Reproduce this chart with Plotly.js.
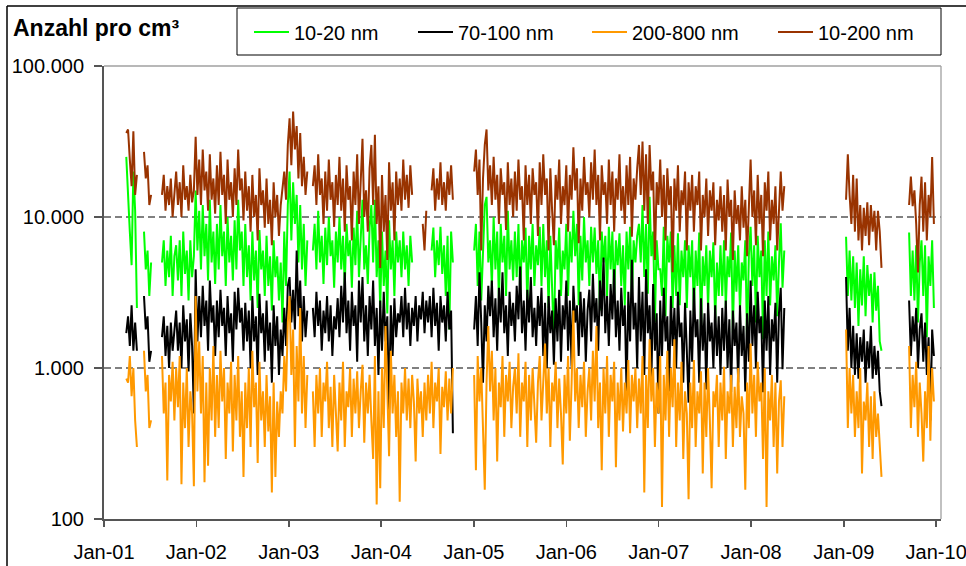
<!DOCTYPE html>
<html>
<head>
<meta charset="utf-8">
<script src="https://cdn.plot.ly/plotly-3.0.1.min.js"></script>
<style>html,body{margin:0;padding:0;background:#fff}</style>
</head>
<body>
<div id="chart" style="width:966px;height:566px"></div>
<script>
// Weekly particle number concentrations (per cm³), one sub-array per measuring period.
const segmentStart = ['2001-03-30', '2001-06-08', '2001-08-18', '2003-04-06', '2005-01-02', '2009-01-10', '2009-09-16'];

const nm10_20 = [
  [25000, 13000, 8000, 4800, 20000, 11000, 2500],
  [8000, 4500, 6000, 3000, 5000],
  [5000, 7000, 3500, 6000, 4000, 7500, 3000, 5500,
   6500, 3800, 7000, 3000, 8000, 4200, 6000, 2800, 7000, 4000, 5500,
   15000, 6000, 11000,
   4500, 12000, 5500, 9000, 3800, 13000, 5000, 8000, 3600,
   9000, 4500, 12000, 5500, 8000, 3500, 10000, 5000, 7500, 3800, 9500, 4500, 13000, 6000, 8000, 3500, 9000,
   4000, 6500, 2800, 8000, 3800, 6000, 2500, 8200, 4500, 6000, 3000, 7500, 3500, 5500, 2400, 7000, 4000, 5500, 2800, 5000,
   2000, 8000, 3500, 12000, 20000, 7000, 17000, 9000, 14000, 5000, 12000, 4500, 9000, 3500, 7000],
  [6000, 9000, 4500, 11000, 5000, 7500, 3600, 8500, 4800, 10000, 5500, 7000, 3400, 8000, 5000,
   10000, 4500, 7500, 3500, 9000, 5500, 7000, 3400, 8500, 4800, 11000, 4000, 7500, 13000, 4500, 6500, 3600,
   8500, 12000, 5000, 13000, 4000, 7000, 2500, 8000, 3500, 6000, 2300, 9500, 4500, 7000, 3000, 8000, 5000,
   7000, 4000, 8000, 4500, 6500, 3500, 7500, 5000,
   null, null, null, null, null, null, null, null, null, null,
   6000, 8500, 4000, 7000, 4800, 8600, 4200, 6500, 3000, 7500, 1800, 8000, 5000],
  [6000, 9000, 3500, 8000, 2800, 7000, 12000, 13600, 5000,
   7000, 3500, 10000, 4500, 8000, 2800, 9000, 5000, 7500, 3000, 11000, 4500, 7000, 3800,
   8000, 4000, 9000, 3000, 7000, 5000, 8500, 2600, 7500, 4500, 9000, 3500, 6500, 4800,
   8600, 3500, 9000, 4000, 7000, 2500, 7500, 3500, 1500, 7000, 4500, 8500, 3000, 6000,
   4500, 9000, 3000, 8000, 5000, 11000, 5500, 9000, 2600, 7500, 3800, 10000, 5000, 7000,
   3500, 8600, 5000, 8500, 4200, 7000, 2400, 8000, 5000, 7500, 3000, 8600, 4500, 8000, 2800, 7000, 4800, 7800, 3500, 6500,
   2600, 8000, 4500, 8600, 2800, 7000, 5000, 7500, 9000,
   5000, 12000, 4000, 9000, 3100, 13600, 5500, 8000, 2000, 7000, 4500,
   4500, 3000, 8600, 2200, 7500, 5000, 8000, 2500, 6500, 3000, 7800, 2600, 6000, 4000, 7000, 2500, 6500,
   4000, 7000, 2200, 6000, 3500, 7900, 1700, 5500, 3500, 6500, 2500, 6000, 4000, 6800, 2000, 5000, 3000,
   6500, 3000, 7000, 2500, 5500, 4000, 7900, 1700, 6000, 3200, 6500, 2400, 5000, 3800, 7000, 1500, 5500,
   8600, 3500, 6500, 2000, 7500, 4000, 6000, 1550, 7000, 3000, 8000, 2600, 5500, 3800, 6500, 2200, 5000,
   9100, 3400, 6000],
  [7400, 3000, 6000, 2800, 5500, 2500, 5000, 1900, 4500, 2600, 5500, 2200, 4800, 3000, 4200, 2000, 4300, 2400, 3500, 1500, 1300],
  [7900, 3000, 6000, 2800, 6500, 2000, 5000, 7000, 3000, 6500, 1600, 5500, 3500, 7000, 2500]
];

const nm70_100 = [
  [1700, 2200, 1400, 2600, 1300, 2000, 1300],
  [3000, 1800, 2200, 1100, 1300],
  [1600, 2200, 1200, 1900, 1000, 2000, 1300, 1800,
   2400, 1300, 2000, 1000, 2600, 1500, 2100, 950, 2300, 1400, 500,
   4500, 1500, 3000,
   1600, 3500, 1900, 2800, 1300, 3800, 2000, 2600, 1200,
   2800, 1600, 3300, 1900, 2500, 1200, 3000, 1700, 2300, 1100, 3200, 1800, 3400, 2000, 2500, 1300, 2700,
   1500, 2400, 1000, 3000, 1500, 2200, 900, 3100, 1700, 2300, 1100, 2800, 1300, 2000, 800, 2600, 1400, 2200, 900, 1800,
   1200, 2500, 1400, 3500, 4000, 2000, 3300, 1800, 6000, 2200, 3800, 1500, 3000, 1600, 2400],
  [2500, 1600, 3200, 1900, 2800, 1300, 2400, 1700, 3000, 1500, 2600, 1200, 2200, 1800, 2900,
   1600, 3500, 2000, 4300, 1700, 2800, 1300, 3200, 1900, 2600, 1100, 3800, 2000, 4000, 1500, 2600, 1200,
   3000, 1800, 3800, 1400, 2500, 900, 2800, 1300, 3200, 1500, 2200, 530, 2600, 1200, 2900, 1600, 2300,
   2000, 3000, 1600, 3400, 1800, 2700, 1400, 2500,
   1900, 3000, 1500, 2600, 2100, 3200, 1700, 2800,
   2000, 3000, 1600, 3400, 1900, 2700, 1300, 3000, 2000, 2600, 1500, 3200, 1800, 2400, 370],
  [1800, 3000, 1400, 4300, 2000, 800, 2600, 1500, 3500,
   2200, 3800, 1600, 2900, 1300, 3400, 2000, 4300, 1700, 2600, 1200, 3200, 1900, 2700,
   1500, 3500, 2100, 4700, 1700, 2800, 1300, 3300, 2000, 4000, 1600, 2500, 1400, 3000,
   1900, 3400, 1200, 2700, 1000, 3000, 1700, 2400, 1050, 2900, 1500, 3300, 1100, 2600,
   1800, 3800, 1300, 2800, 1020, 3500, 2000, 2600, 1200, 3200, 1600, 2900, 1100, 2400,
   3300, 1500, 4200, 2000, 2900, 1300, 3800, 2200, 5400, 1700, 3000, 1400, 3600, 2100, 4500, 1600, 2800, 1300, 3400, 1900,
   2600, 690, 3200, 1500, 5200, 1800, 2700, 1000, 4000,
   1500, 3200, 900, 4500, 1700, 2600, 800, 3600, 1300, 2300, 500,
   2800, 1200, 3400, 1500, 2200, 700, 3000, 1400, 2500, 1000, 3200, 1600, 2000, 800, 2700, 1300, 590,
   2400, 1100, 3400, 1600, 2100, 800, 2900, 1300, 2300, 720, 2700, 1500, 2000, 1000, 2600, 1200, 2200,
   900, 2500, 1300, 2800, 1000, 2100, 690, 2400, 1400, 2000, 800, 2600, 1200, 1900, 700, 2300, 1100,
   3800, 1400, 2600, 1000, 3200, 1700, 2200, 690, 2800, 1300, 3000, 900, 2100, 1500, 2700, 800, 2300,
   3400, 980, 2500],
  [4000, 1300, 2500, 1000, 1900, 900, 1700, 850, 1600, 1100, 1800, 800, 1500, 1000, 1900, 850, 1400, 900, 1300, 700, 560],
  [2800, 1200, 2200, 1500, 2500, 1000, 1800, 2300, 1100, 2000, 900, 1600, 450, 1800, 1200]
];

const nm200_800 = [
  [850, 800, 1200, 650, 1000, 450, 300],
  [1300, 700, 900, 400, 450],
  [1200, 500, 800, 180, 900, 600, 1100, 450,
   1000, 550, 1200, 170, 800, 400, 1000, 300, 700, 500, 165,
   3000, 700, 1500,
   500, 1200, 175, 800, 225, 1000, 450, 1400, 350,
   900, 400, 1300, 600, 1000, 250, 800, 500, 1100, 280, 900, 450, 1200, 350, 700, 190, 800,
   400, 1000, 300, 1300, 550, 800, 235, 1100, 450, 700, 300, 900, 380, 650, 150, 800, 190, 600, 350, 700,
   500, 1200, 700, 2000, 3000, 900, 1800, 300, 1400, 600, 2500, 500, 1200, 400, 900],
  [700, 300, 900, 500, 1000, 350, 800, 600, 1100, 400, 750, 300, 900, 500, 280,
   800, 450, 1100, 300, 700, 550, 1000, 350, 850, 500, 950, 400, 700, 1050, 320, 800, 500,
   900, 450, 250, 1200, 125, 700, 160, 1000, 400, 1900, 600, 260, 1300, 500, 900, 350, 700,
   130, 800, 500, 1000, 450, 850, 400, 900,
   600, 240, 850, 500, 700, 350, 800, 450,
   900, 500, 1100, 400, 800, 600, 1000, 270, 750, 550, 950, 450, 850, 500, 1000],
  [900, 210, 1200, 600, 1000, 400, 156, 800, 1900,
   700, 1300, 450, 1000, 240, 800, 550, 1200, 350, 900, 600, 1100, 400, 750,
   1000, 500, 1250, 350, 800, 600, 1100, 300, 900, 450, 1000, 550, 320, 800,
   1200, 450, 900, 1450, 500, 1000, 300, 800, 600, 1100, 400, 850, 500, 230,
   900, 500, 1200, 330, 800, 2400, 600, 1000, 400, 900, 550, 1100, 350, 700,
   1000, 450, 1300, 600, 1900, 400, 800, 210, 1000, 500, 1200, 350, 900, 600, 1100, 220, 800, 450, 1000, 380,
   800, 500, 1130, 370, 900, 600, 1000, 400, 850,
   500, 1200, 150, 900, 400, 1550, 600, 1000, 300, 800, 500,
   1200, 120, 900, 450, 1300, 350, 1000, 550, 1550, 300, 800, 450, 1100, 250, 700, 500, 135,
   800, 400, 1130, 300, 700, 500, 950, 200, 800, 350, 1000, 450, 160, 700, 550, 900, 300,
   800, 450, 1020, 250, 700, 500, 900, 300, 750, 400, 1000, 350, 650, 500, 156, 800, 400,
   1450, 500, 900, 350, 1100, 600, 800, 250, 1000, 120, 700, 450, 900, 300, 800, 200, 600,
   830, 300, 650],
  [1800, 400, 1000, 500, 900, 350, 700, 400, 1000, 200, 600, 450, 800, 300, 650, 250, 700, 350, 500, 300, 190],
  [1400, 400, 900, 550, 1100, 350, 800, 500, 240, 700, 400, 1400, 330, 1000, 600]
];

const nm10_200 = [
  [36000, 38000, 24000, 16000, 37000, 14000, 19000],
  [27000, 18000, 22000, 12000, 14000],
  [14000, 19000, 11000, 16000, 12000, 18000, 10000, 15000,
   20000, 12000, 17000, 10000, 22000, 13000, 16000, 11000, 19000, 12500, 15000,
   34000, 14000, 24000,
   12000, 28000, 15000, 20000, 11000, 26000, 13000, 18000, 10500,
   22000, 12000, 27000, 14000, 19000, 9000, 24000, 13000, 17000, 10000, 21000, 12000, 28000, 15000, 18000, 9500, 20000,
   11000, 16000, 8000, 19000, 10000, 14000, 7000, 21000, 12000, 15000, 8500, 18000, 9000, 13000, 6500, 17000, 10000, 14000, 7500, 12000,
   15000, 20000, 13000, 30000, 45000, 22000, 50000, 28000, 40000, 18000, 36000, 16000, 25000, 14000, 20000],
  [16000, 22000, 12000, 26000, 14000, 18000, 9000, 20000, 11000, 24000, 13000, 17000, 8600, 19000, 12000,
   25000, 11000, 18000, 8000, 22000, 13000, 16000, 7000, 20000, 12000, 26000, 9000, 17000, 33000, 10000, 15000, 8000,
   21000, 30000, 12000, 35000, 9000, 16000, 4600, 19000, 8000, 14000, 5200, 23000, 11000, 17000, 7000, 20000, 12000,
   18000, 11000, 24000, 13000, 19000, 11500, 22000, 14000,
   null, null, null, null, null,
   9000, 6000, 11000,
   null, null,
   15000, 21000, 11000, 18000, 13000, 23000, 12000, 17000, 11000, 20000, 14000, 22000, 13000],
  [20000, 28000, 14000, 24000, 6000, 18000, 30000, 38000, 15000,
   22000, 12000, 25000, 13000, 19000, 9000, 21000, 14000, 17000, 8200, 23000, 12000, 18000, 10000,
   20000, 11000, 24000, 13000, 16000, 7000, 22000, 12000, 19000, 9000, 21000, 14000, 17000, 7500,
   23000, 12000, 26000, 14000, 18000, 6000, 21000, 11000, 6500, 19000, 13000, 24000, 9000, 16000,
   12000, 22000, 8000, 19000, 13000, 29000, 15000, 21000, 6700, 18000, 11000, 25000, 14000, 17000,
   10000, 23000, 13000, 28000, 12000, 19000, 7000, 22000, 14000, 17000, 9000, 24000, 12000, 20000, 8000, 18000, 13000, 26000, 11000, 16000,
   9000, 22000, 12000, 25000, 7400, 18000, 13000, 21000, 30000,
   14000, 31600, 11000, 26000, 9000, 30000, 15000, 20000, 5200, 17000, 12000,
   24000, 10000, 19000, 7000, 21000, 12000, 16000, 4300, 18000, 11000, 22000, 8000, 15000, 12000, 20000, 6000, 17000,
   11000, 19000, 8000, 16000, 12000, 20000, 6000, 14000, 10000, 18000, 7500, 15000, 11000, 17000, 6500, 13000, 9500,
   16000, 8000, 14000, 6000, 17700, 10000, 13000, 5200, 15000, 9000, 12000, 7000, 16000, 8500, 13000, 5500, 11000,
   24000, 10000, 15000, 6500, 19000, 9000, 14000, 5500, 17000, 11000, 20000, 7000, 13000, 9000, 16000, 6000, 12000,
   20000, 11000, 16000],
  [13000, 26000, 14000, 9000, 19000, 8000, 18000, 7000, 12000, 6000, 11500, 7500, 12500, 6500, 12000, 8000, 11000, 6000, 11000, 8000, 4600],
  [12000, 18500, 11800, 15000, 9000, 4300, 12000, 18500, 8000, 17000, 7000, 14000, 10000, 25000, 9000]
];

const seriesNames = ['10-20 nm', '70-100 nm', '200-800 nm', '10-200 nm'];
const seriesColors = ['#00ff00', '#000000', '#ff9900', '#993300'];
const yTickVals = [100, 1000, 10000, 100000];
const yTickText = ['100', '1.000', '10.000', '100.000'];

// plot area in pixels: left 104, right 941, top 66, bottom 519
const PL = 104, PR = 941, PT = 66, PB = 519;
const px = v => (v - PL) / (PR - PL);
const py = v => (PB - v) / (PB - PT);

function addDays(iso, n) {
  const d = new Date(iso + 'T00:00:00Z');
  d.setUTCDate(d.getUTCDate() + n);
  return d.toISOString().slice(0, 10);
}

function buildXY(segments) {
  const x = [], y = [];
  segments.forEach((seg, s) => {
    seg.forEach((v, k) => { x.push(addDays(segmentStart[s], 7 * k)); y.push(v); });
    // break the line between measuring periods
    x.push(addDays(segmentStart[s], 7 * seg.length - 3)); y.push(null);
  });
  return { x, y };
}

const allSeries = [nm10_20, nm70_100, nm200_800, nm10_200];
const legendIds = ['legend', 'legend2', 'legend3', 'legend4'];
const legendLineStart = [256, 420, 594, 780];

const traces = allSeries.map((segs, i) => {
  const xy = buildXY(segs);
  return {
    type: 'scatter', mode: 'lines',
    x: xy.x, y: xy.y,
    name: seriesNames[i],
    line: { color: seriesColors[i], width: 2 },
    legend: legendIds[i],
    hoverinfo: 'skip'
  };
});

const FONT = 'Liberation Sans, Arial, sans-serif';

const layout = {
  width: 966, height: 566,
  margin: { l: PL, r: 966 - PR, t: PT, b: 566 - PB, pad: 0 },
  paper_bgcolor: '#ffffff', plot_bgcolor: '#ffffff',
  font: { family: FONT, size: 20, color: '#000000' },
  xaxis: {
    type: 'date',
    range: ['2001-01-01', '2010-01-20'],
    tick0: '2001-01-01', dtick: 'M12', tickformat: '%b-%y',
    ticks: 'outside', ticklen: 6, tickwidth: 1.5, tickcolor: '#555555',
    showline: true, linecolor: '#555555', linewidth: 2,
    showgrid: false, zeroline: false,
    ticklabelstandoff: 8,
    ticklabeloverflow: 'allow',
    tickfont: { size: 20, family: FONT }
  },
  yaxis: {
    type: 'log', range: [2, 5],
    tickmode: 'array', tickvals: yTickVals, ticktext: yTickText,
    ticks: 'outside', ticklen: 8, tickwidth: 1.5, tickcolor: '#555555',
    showline: true, linecolor: '#555555', linewidth: 2,
    showgrid: true, gridcolor: '#808080', gridwidth: 1.2, griddash: '7px,4px',
    zeroline: false,
    ticklabelstandoff: 6,
    tickfont: { size: 20, family: FONT }
  },
  showlegend: true,
  annotations: [{
    xref: 'paper', yref: 'paper', x: px(11), y: py(28),
    xanchor: 'left', yanchor: 'middle', showarrow: false,
    text: '<b>Anzahl pro cm³</b>',
    font: { family: FONT, size: 23, color: '#000000' }
  }],
  shapes: [
    // top and right frame of the plot area
    { type: 'line', xref: 'paper', yref: 'paper', x0: 0, x1: 1, y0: 1, y1: 1, line: { color: '#a0a0a0', width: 1.3 }, layer: 'above' },
    { type: 'line', xref: 'paper', yref: 'paper', x0: 1, x1: 1, y0: 0, y1: 1, line: { color: '#a0a0a0', width: 1.3 }, layer: 'above' },
    // legend box
    { type: 'rect', xref: 'paper', yref: 'paper', x0: px(237), x1: px(941), y0: py(55), y1: py(8), line: { color: '#000000', width: 1 }, fillcolor: 'rgba(0,0,0,0)' },
    // outer chart border
    { type: 'line', xref: 'paper', yref: 'paper', x0: px(7), x1: px(966), y0: py(6), y1: py(6), line: { color: '#000000', width: 1.5 } },
    { type: 'line', xref: 'paper', yref: 'paper', x0: px(7), x1: px(7), y0: py(6), y1: py(566), line: { color: '#000000', width: 1.5 } }
  ]
};

legendIds.forEach((id, i) => {
  layout[id] = {
    x: px(legendLineStart[i] - 7), y: py(32),
    xanchor: 'left', yanchor: 'middle',
    orientation: 'h',
    bgcolor: 'rgba(0,0,0,0)', borderwidth: 0,
    itemwidth: 35,
    font: { family: FONT, size: 20, color: '#000000' }
  };
});

Plotly.newPlot('chart', traces, layout, { displayModeBar: false, staticPlot: true });
</script>
</body>
</html>
